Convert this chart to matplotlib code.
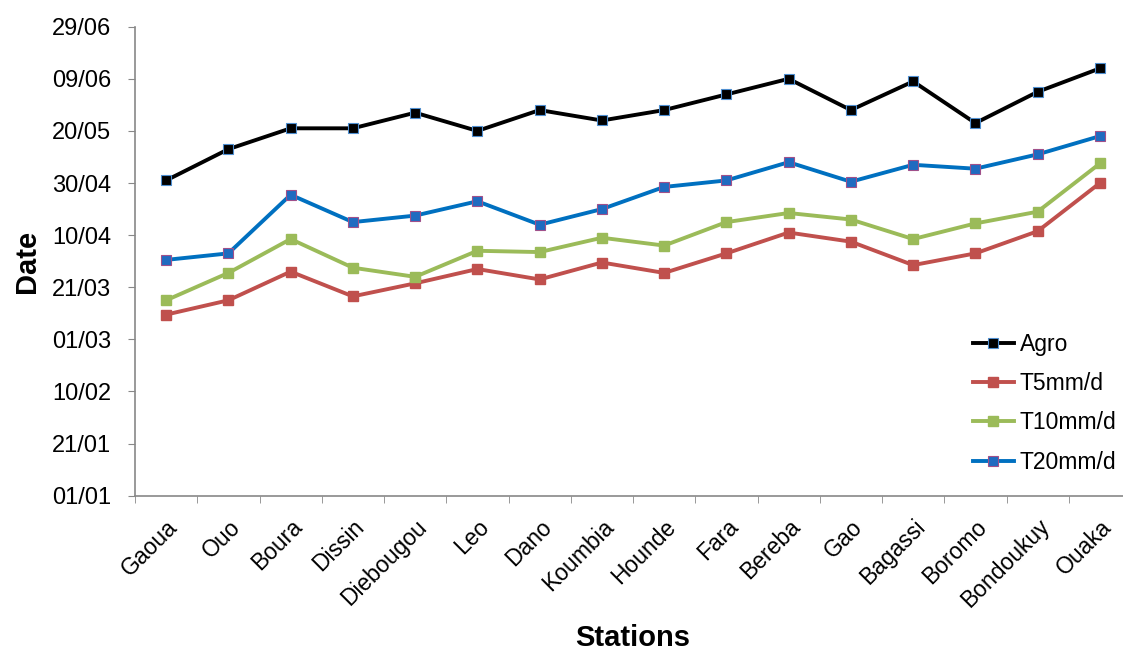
import matplotlib.pyplot as plt

plt.rcParams['font.family'] = ['Liberation Sans', 'DejaVu Sans']

# Stations et dates de démarrage (jours depuis le 01/01)
stations = ['Gaoua', 'Ouo', 'Boura', 'Dissin', 'Diebougou', 'Leo', 'Dano', 'Koumbia',
            'Hounde', 'Fara', 'Bereba', 'Gao', 'Bagassi', 'Boromo', 'Bondoukuy', 'Ouaka']
agro = [121, 133, 141, 141, 147, 140, 148, 144, 148, 154, 160, 148, 159, 143, 155, 164]
t5 = [69.5, 75, 86, 76.5, 81.5, 87, 83, 89.5, 85.5, 93, 101, 97.5, 88.5, 93, 101.5, 120]
t10 = [75, 85.5, 98.5, 87.5, 84, 94, 93.5, 99, 96, 105, 108.5, 106, 98.5, 104.5, 109, 127.5]
t20 = [90.5, 93, 115.5, 105, 107.5, 113, 104, 110, 118.5, 121, 128, 120.5, 127, 125.5, 131, 138]
date_ticks = [0, 20, 40, 60, 80, 100, 120, 140, 160, 180]
date_labels = ['01/01', '21/01', '10/02', '01/03', '21/03', '10/04', '30/04', '20/05', '09/06', '29/06']

fig = plt.figure(figsize=(11.23, 6.5), dpi=100)
ax = fig.add_axes([135 / 1123, 1 - 495.7 / 650, 996 / 1123, 469 / 650])

x = range(len(stations))
ax.plot(x, agro, color='black', lw=2.8, marker='s', ms=6.5, mfc='black', mec='#4F8FD0', mew=0.8, label='Agro')
ax.plot(x, t5, color='#C0504D', lw=2.8, marker='s', ms=6.5, mfc='#C0504D', mec='#C0504D', label='T5mm/d')
ax.plot(x, t10, color='#9BBB59', lw=2.8, marker='s', ms=6.5, mfc='#9BBB59', mec='#9BBB59', label='T10mm/d')
ax.plot(x, t20, color='#0070C0', lw=2.8, marker='s', ms=6.5, mfc='#1F6BC0', mec='#A0508A', mew=0.8, label='T20mm/d')

ax.set_xlim(-0.5, 15.5)
ax.set_ylim(0, 180)
ax.set_yticks(date_ticks)
ax.set_yticklabels(date_labels, fontsize=17)
ax.set_xticks(list(x))
ax.set_xticklabels(stations, fontsize=16.5, rotation=45, ha='right', rotation_mode='anchor')
ax.tick_params(axis='x', which='major', length=0, pad=14)
ax.set_xticks([i + 0.5 for i in range(-1, 16)], minor=True)
ax.tick_params(axis='x', which='minor', length=5, color='#888888', direction='out')
ax.tick_params(axis='y', length=5, color='#888888', direction='out', pad=12)

for s in ['top', 'right']:
    ax.spines[s].set_visible(False)
for s in ['left', 'bottom']:
    ax.spines[s].set_color('#888888')
    ax.spines[s].set_linewidth(1.2)

ax.set_ylabel('Date', fontsize=21, fontweight='bold', labelpad=8)
ax.set_xlabel('Stations', fontsize=21, fontweight='bold', labelpad=8)

ax.legend(loc='lower right', bbox_to_anchor=(1128 / 1123, 1 - 485 / 650), bbox_transform=fig.transFigure,
          frameon=False, fontsize=16.5, handlelength=1.8, labelspacing=0.7, handletextpad=0.25, borderpad=0)

fig.savefig('out.png', dpi=100)
